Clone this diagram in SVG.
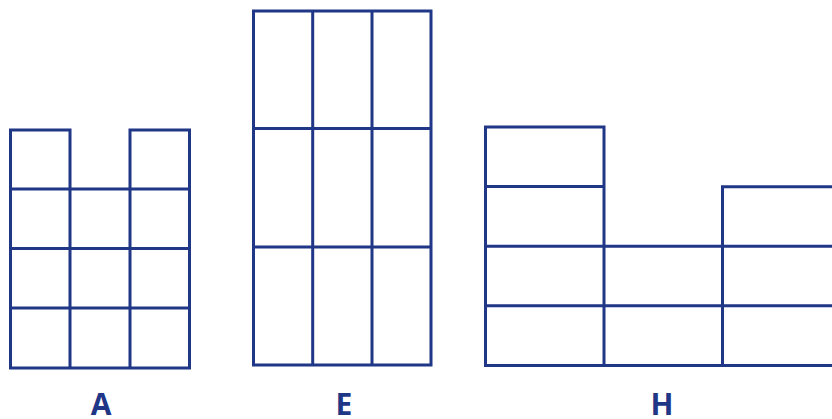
<svg xmlns="http://www.w3.org/2000/svg" width="832" height="419" viewBox="0 0 832 419">
<style>
.g{fill:none;stroke:#1f3786;stroke-width:3;stroke-linecap:square}
.t{font-family:"Open Sans","Liberation Sans",sans-serif;font-weight:bold;font-size:30px;fill:#1f3786;text-anchor:middle}
</style>
<rect width="832" height="419" fill="#fff"/>
<g id="A">
<path class="g" d="M10.5 130H70V368M130 368V130H189.5V368H10.5V130M10.5 189H189.5M10.5 248.5H189.5M10.5 308H189.5"/>
<text class="t" x="101" y="415">A</text>
</g>
<g id="E">
<path class="g" d="M253.5 11H431V365H253.5ZM312.7 11V365M372 11V365M253.5 128.5H431M253.5 247H431"/>
<text class="t" x="344" y="415">E</text>
</g>
<g id="H">
<path class="g" d="M485.5 127H604V365.5H485.5ZM485.5 186.5H604M485.5 246.3H840M485.5 305.7H840M485.5 365.5H840M722.5 186.7H840M722.5 186.7V365.5"/>
<text class="t" x="662" y="415">H</text>
</g>
</svg>
